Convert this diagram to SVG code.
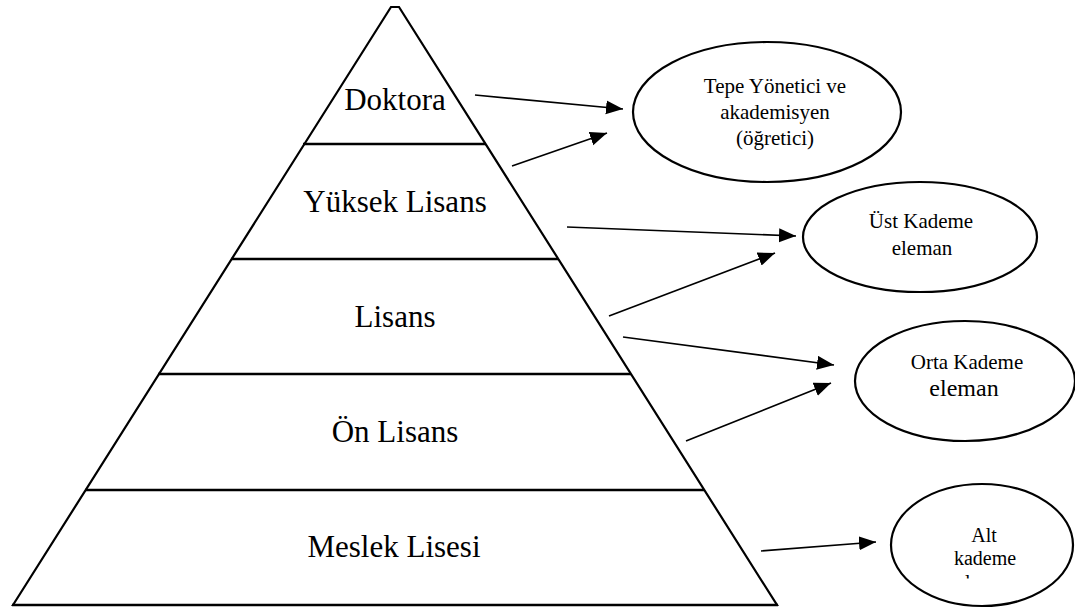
<svg xmlns="http://www.w3.org/2000/svg" width="1075" height="610" viewBox="0 0 1075 610">
  <style>
    .outline { fill: none; stroke: #000; stroke-width: 2.2; stroke-linejoin: miter; }
    .div { stroke: #000; stroke-width: 2.6; }
    .lvl { font-family: "Liberation Serif", "Times New Roman", serif; font-size: 31px; fill: #000; text-anchor: middle; }
    .ell { fill: #fff; stroke: #000; stroke-width: 2.2; }
    .et { font-family: "Liberation Serif", "Times New Roman", serif; font-size: 21px; fill: #000; text-anchor: middle; }
    .conn line { stroke: #000; stroke-width: 1.7; marker-end: url(#arrow); }
  </style>
  <defs>
    <marker id="arrow" markerUnits="userSpaceOnUse" markerWidth="18" markerHeight="15" refX="17" refY="7" orient="auto">
      <path d="M0,0 L17,7 L0,14 z" fill="#000"/>
    </marker>
    <clipPath id="altclip">
      <rect x="890" y="571" width="185" height="7.5"/>
    </clipPath>
  </defs>
  <rect width="1075" height="610" fill="#fff"/>

  <g id="pyramid">
    <polygon class="outline" points="13,605 391,7 399,7 777,605"/>
    <line class="div" x1="12" y1="605" x2="778" y2="605"/>
  </g>

  <g id="level-doktora">
    <text class="lvl" x="395" y="110">Doktora</text>
  </g>
  <g id="level-yuksek-lisans">
    <line class="div" x1="303" y1="144" x2="486" y2="144"/>
    <text class="lvl" x="395" y="212">Yüksek Lisans</text>
  </g>
  <g id="level-lisans">
    <line class="div" x1="231" y1="259" x2="558" y2="259"/>
    <text class="lvl" x="395" y="327">Lisans</text>
  </g>
  <g id="level-on-lisans">
    <line class="div" x1="158" y1="374" x2="631" y2="374"/>
    <text class="lvl" x="395" y="442">Ön Lisans</text>
  </g>
  <g id="level-meslek-lisesi">
    <line class="div" x1="85" y1="490" x2="704" y2="490"/>
    <text class="lvl" x="394" y="557">Meslek Lisesi</text>
  </g>

  <g id="node-tepe">
    <ellipse class="ell" cx="767" cy="112" rx="134" ry="70"/>
    <text class="et" x="775" y="93">Tepe Yönetici ve</text>
    <text class="et" x="775" y="119">akademisyen</text>
    <text class="et" x="775" y="145">(öğretici)</text>
  </g>
  <g id="node-ust">
    <ellipse class="ell" cx="920" cy="237" rx="117" ry="55"/>
    <text class="et" x="921" y="228">Üst Kademe</text>
    <text class="et" x="922" y="255">eleman</text>
  </g>
  <g id="node-orta">
    <ellipse class="ell" cx="965" cy="381" rx="110" ry="60"/>
    <text class="et" x="967" y="369">Orta Kademe</text>
    <text class="et" x="964" y="396" style="font-size:24px">eleman</text>
  </g>
  <g id="node-alt">
    <ellipse class="ell" cx="982" cy="545" rx="91" ry="61"/>
    <text class="et" x="984" y="542" style="font-size:20px">Alt</text>
    <text class="et" x="985" y="565" style="font-size:20px">kademe</text>
    <text class="et" x="985" y="589" style="font-size:20px" clip-path="url(#altclip)">eleman</text>
  </g>

  <g id="connectors" class="conn">
    <line x1="475" y1="95" x2="623" y2="109"/>
    <line x1="512" y1="166" x2="607" y2="133"/>
    <line x1="567" y1="227" x2="796" y2="236"/>
    <line x1="609" y1="316" x2="775" y2="253"/>
    <line x1="623" y1="337" x2="834" y2="365"/>
    <line x1="686" y1="441" x2="831" y2="383"/>
    <line x1="761" y1="551" x2="876" y2="542"/>
  </g>
</svg>
